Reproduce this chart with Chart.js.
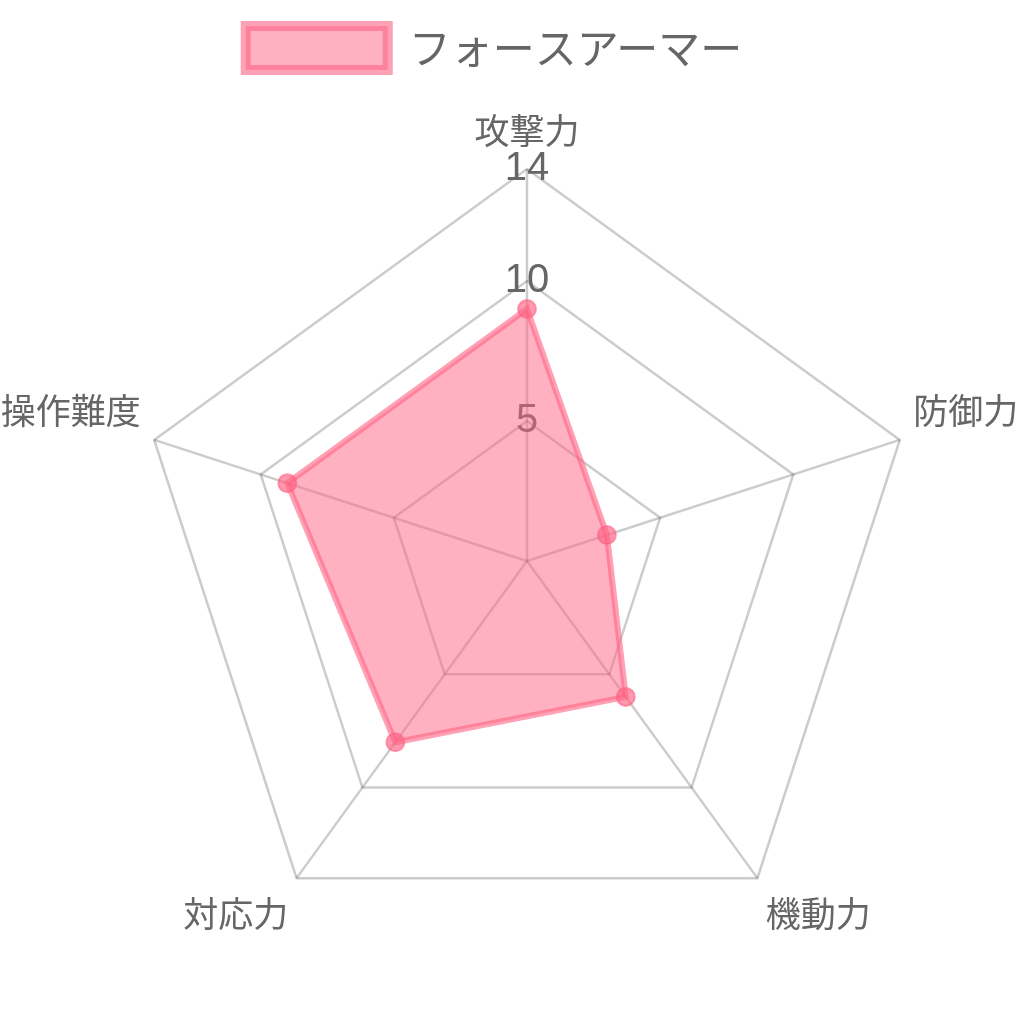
<!DOCTYPE html>
<html>
<head>
<meta charset="utf-8">
<script src="https://cdn.jsdelivr.net/npm/chart.js@4"></script>
<style>
html,body{margin:0;padding:0;background:#fff;}
#wrap{position:absolute;left:0;top:0;width:1024px;height:1013px;}
</style>
</head>
<body>
<div id="wrap"><canvas id="c"></canvas></div>
<script>
const categories = ['攻撃力', '防御力', '機動力', '対応力', '操作難度'];
const seriesName = 'フォースアーマー';
const seriesValues = [9, 3, 6, 8, 9];
const scaleMax = 14;
const scaleStep = 5;

// layout of the radial scale (centre and outer radius, in CSS px)
const radarGeometry = { cx: 527, cy: 561, r: 392 };

const FONT = '"Noto Sans CJK JP", "Noto Sans", sans-serif';
const NUM_FONT = '"Liberation Sans", Arial, sans-serif';

const fixRadar = {
  id: 'fixRadar',
  beforeLayout(chart) {
    const s = chart.scales.r;
    if (s && !s._geomPatched) {
      s._geomPatched = true;
      s.setCenterPoint = function () {
        this.xCenter = radarGeometry.cx;
        this.yCenter = radarGeometry.cy;
        this.drawingArea = radarGeometry.r;
      };
    }
  }
};

new Chart(document.getElementById('c'), {
  type: 'radar',
  plugins: [fixRadar],
  data: {
    labels: categories,
    datasets: [{
      label: seriesName,
      data: seriesValues,
      backgroundColor: 'rgba(255,99,132,0.5)',
      borderColor: 'rgba(255,99,132,0.6)',
      borderWidth: 6,
      pointRadius: 9,
      pointBorderWidth: 2,
      pointBackgroundColor: 'rgba(255,99,132,0.65)',
      pointBorderColor: 'rgba(255,99,132,0.6)'
    }]
  },
  options: {
    responsive: true,
    maintainAspectRatio: false,
    animation: false,
    layout: { padding: { left: 0, right: 36, top: 16, bottom: 0 } },
    plugins: {
      legend: {
        display: true,
        position: 'top',
        labels: {
          color: '#666',
          font: { family: FONT, size: 42 },
          boxWidth: 142,
          boxHeight: 44,
          padding: 10,
          generateLabels: (chart) => {
            const items = Chart.defaults.plugins.legend.labels.generateLabels(chart);
            items.forEach(it => { it.lineWidth = 10; });
            return items;
          }
        }
      },
      tooltip: { enabled: false }
    },
    scales: {
      r: {
        min: 0,
        max: scaleMax,
        beginAtZero: true,
        ticks: {
          stepSize: scaleStep,
          showLabelBackdrop: false,
          backdropPadding: 0,
          color: '#666',
          font: { family: NUM_FONT, size: 40, lineHeight: 1.2 }
        },
        grid: { color: 'rgba(0,0,0,0.2)', lineWidth: 2.5 },
        angleLines: { color: 'rgba(0,0,0,0.2)', lineWidth: 2.5 },
        pointLabels: {
          color: '#666',
          padding: -6,
          font: { family: FONT, size: 35, lineHeight: 1.4 }
        }
      }
    }
  }
});
</script>
</body>
</html>
